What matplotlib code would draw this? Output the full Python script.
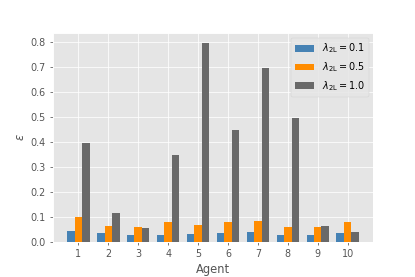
import numpy as np
import matplotlib
matplotlib.use('Agg')
import matplotlib.pyplot as plt

plt.style.use('ggplot')

agents = [1, 2, 3, 4, 5, 6, 7, 8, 9, 10]
eps_01 = [0.043, 0.035, 0.027, 0.029, 0.031, 0.035, 0.039, 0.028, 0.028, 0.037]
eps_05 = [0.099, 0.063, 0.059, 0.079, 0.070, 0.080, 0.086, 0.059, 0.059, 0.082]
eps_10 = [0.398, 0.115, 0.055, 0.348, 0.798, 0.448, 0.698, 0.499, 0.064, 0.039]

labels = [r'$\lambda_{2\mathrm{L}} = 0.1$',
          r'$\lambda_{2\mathrm{L}} = 0.5$',
          r'$\lambda_{2\mathrm{L}} = 1.0$']
colors = ['steelblue', 'darkorange', 'dimgray']

fig = plt.figure(figsize=(6, 4), dpi=69.25)
ax = fig.add_subplot(111)
fig.subplots_adjust(left=52.5 / 415, right=373 / 415, top=1 - 33 / 277, bottom=1 - 242 / 277)

x = np.array(agents)
w = 0.25
for i, (vals, lab, c) in enumerate(zip([eps_01, eps_05, eps_10], labels, colors)):
    ax.bar(x + (i - 1) * w, vals, w, label=lab, color=c)

ax.set_xticks(x)
ax.set_xlabel('Agent')
ax.set_ylabel(r'$\varepsilon$')
ax.legend()

fig.savefig('out.png', dpi=69.25)
